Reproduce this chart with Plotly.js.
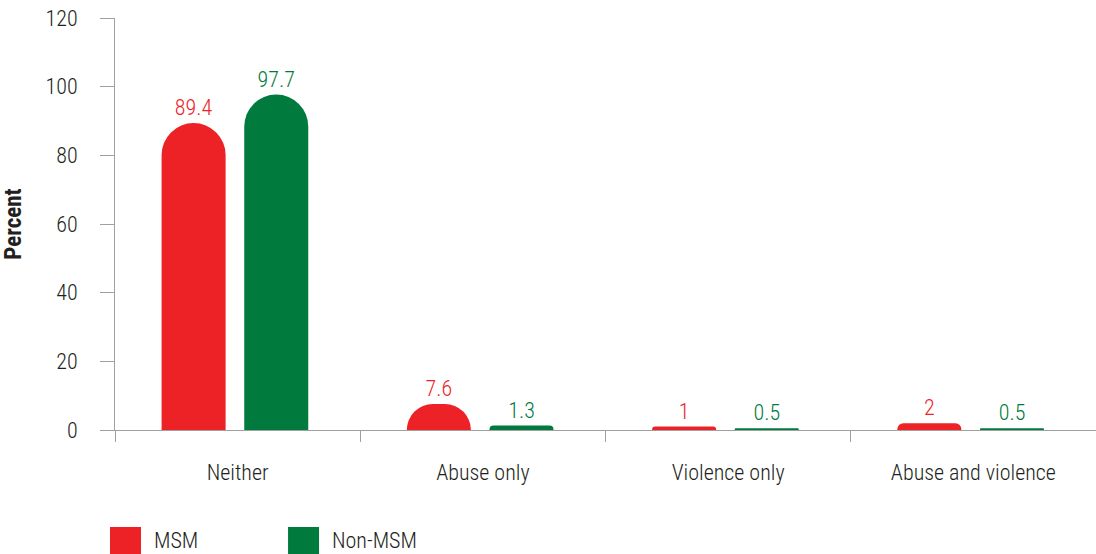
<!DOCTYPE html>
<html>
<head>
<meta charset="utf-8">
<script src="https://cdn.plot.ly/plotly-3.0.1.min.js"></script>
<style>html,body{margin:0;padding:0;background:#fff;}#chart{width:1096px;height:554px;}</style>
</head>
<body>
<div id="chart"></div>
<script>
const categories = ["Neither", "Abuse only", "Violence only", "Abuse and violence"];
const msmValues = [89.4, 7.6, 1, 2];
const nonMsmValues = [97.7, 1.3, 0.5, 0.5];
const seriesNames = ["MSM", "Non-MSM"];
const yTicks = [0, 20, 40, 60, 80, 100, 120];

const RED = "#ED2226";
const GREEN = "#007A3D";
const FONT = "'Roboto Condensed', 'Liberation Sans Narrow', 'Arial Narrow', sans-serif";
const AXIS = "#A0A0A0";
const TXT = "#231F20";
const W = 350;

function barTrace(name, vals, color, offset) {
  return {
    type: "bar", name: name, x: categories, y: vals,
    width: 0.261, offset: offset,
    marker: {color: color, cornerradius: "50%"},
    text: vals.map(v => String(v)), textposition: "outside",
    textfont: {family: FONT, size: 22, color: color, weight: W},
    cliponaxis: false, showlegend: false, hoverinfo: "x+y"
  };
}

const data = [
  barTrace(seriesNames[0], msmValues, RED, -0.31),
  barTrace(seriesNames[1], nonMsmValues, GREEN, 0.027)
];

const layout = {
  width: 1096, height: 554,
  margin: {l: 115, r: 0, t: 18, b: 124},
  paper_bgcolor: "#fff", plot_bgcolor: "#fff",
  barmode: "overlay",
  font: {family: FONT, size: 22, color: TXT, weight: W},
  xaxis: {
    type: "category", range: [-0.5, 3.5], tickson: "boundaries",
    ticks: "outside", ticklen: 11, tickcolor: AXIS, tickwidth: 1,
    showline: true, linecolor: AXIS, linewidth: 1, showgrid: false, zeroline: false,
    tickfont: {family: FONT, size: 22, color: TXT, weight: W}, ticklabelstandoff: 23
  },
  yaxis: {
    range: [0, 120], tickvals: yTicks, ticktext: yTicks.map(String),
    ticks: "outside", ticklen: 14, tickcolor: AXIS, tickwidth: 1,
    showline: true, linecolor: AXIS, linewidth: 1, showgrid: false, zeroline: false,
    tickfont: {family: FONT, size: 22, color: TXT, weight: W}, ticklabelstandoff: 18,
    title: {text: "Percent", font: {family: FONT, size: 23, color: TXT, weight: 700}, standoff: 24}
  },
  shapes: [
    {type: "rect", xref: "paper", yref: "paper", x0: -0.0051, x1: 0.0265, y0: -0.2354, y1: -0.301, fillcolor: RED, line: {width: 0}},
    {type: "rect", xref: "paper", yref: "paper", x0: 0.1764, x1: 0.208, y0: -0.2354, y1: -0.301, fillcolor: GREEN, line: {width: 0}}
  ],
  annotations: [
    {xref: "paper", yref: "paper", x: 0.0377, y: -0.2694, xanchor: "left", yanchor: "middle", text: seriesNames[0], showarrow: false, font: {family: FONT, size: 22, color: TXT, weight: W}},
    {xref: "paper", yref: "paper", x: 0.2192, y: -0.2694, xanchor: "left", yanchor: "middle", text: seriesNames[1], showarrow: false, font: {family: FONT, size: 22, color: TXT, weight: W}}
  ]
};

Plotly.newPlot("chart", data, layout, {displayModeBar: false, staticPlot: true});
</script>
</body>
</html>
